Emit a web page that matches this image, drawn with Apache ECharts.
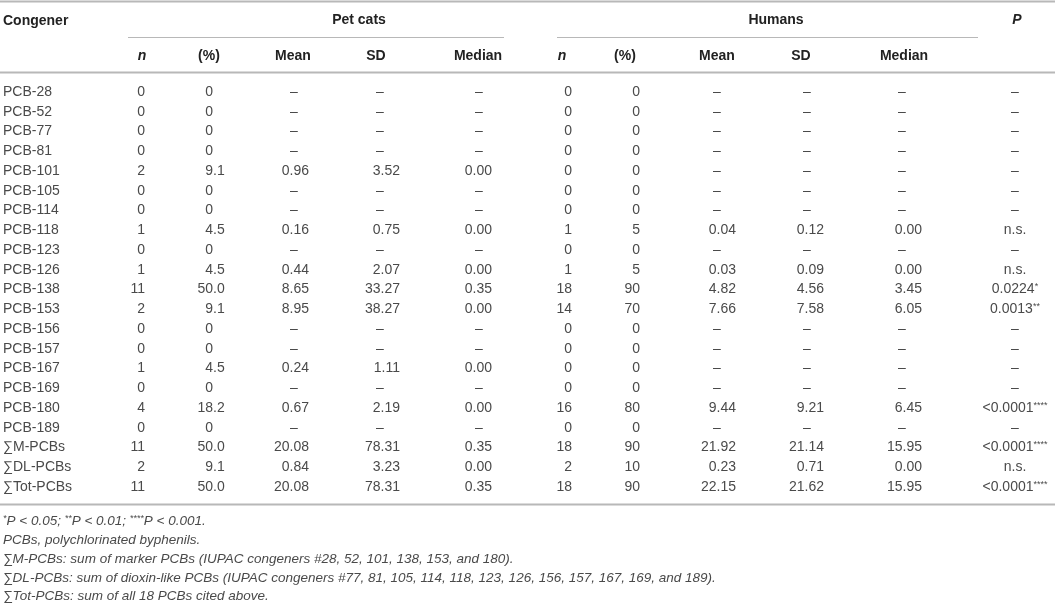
<!DOCTYPE html>
<html>
<head>
<meta charset="utf-8">
<title>PCB congeners in pet cats and humans</title>
<script src="https://cdn.jsdelivr.net/npm/echarts@6/dist/echarts.min.js"></script>
<style>
  html, body { margin: 0; padding: 0; background: #fff; }
  #main { width: 1055px; height: 604px; }
</style>
</head>
<body>
<div id="main"></div>
<script>
// rows
var congeners = ['PCB-28', 'PCB-52', 'PCB-77', 'PCB-81', 'PCB-101', 'PCB-105', 'PCB-114', 'PCB-118', 'PCB-123', 'PCB-126',
  'PCB-138', 'PCB-153', 'PCB-156', 'PCB-157', 'PCB-167', 'PCB-169', 'PCB-180', 'PCB-189', '∑M-PCBs', '∑DL-PCBs', '∑Tot-PCBs'];

// pet cats
var catsN      = ['0', '0', '0', '0', '2', '0', '0', '1', '0', '1', '11', '2', '0', '0', '1', '0', '4', '0', '11', '2', '11'];
var catsPct    = ['0', '0', '0', '0', '9.1', '0', '0', '4.5', '0', '4.5', '50.0', '9.1', '0', '0', '4.5', '0', '18.2', '0', '50.0', '9.1', '50.0'];
var catsMean   = ['–', '–', '–', '–', '0.96', '–', '–', '0.16', '–', '0.44', '8.65', '8.95', '–', '–', '0.24', '–', '0.67', '–', '20.08', '0.84', '20.08'];
var catsSD     = ['–', '–', '–', '–', '3.52', '–', '–', '0.75', '–', '2.07', '33.27', '38.27', '–', '–', '1.11', '–', '2.19', '–', '78.31', '3.23', '78.31'];
var catsMedian = ['–', '–', '–', '–', '0.00', '–', '–', '0.00', '–', '0.00', '0.35', '0.00', '–', '–', '0.00', '–', '0.00', '–', '0.35', '0.00', '0.35'];

// humans
var humN      = ['0', '0', '0', '0', '0', '0', '0', '1', '0', '1', '18', '14', '0', '0', '0', '0', '16', '0', '18', '2', '18'];
var humPct    = ['0', '0', '0', '0', '0', '0', '0', '5', '0', '5', '90', '70', '0', '0', '0', '0', '80', '0', '90', '10', '90'];
var humMean   = ['–', '–', '–', '–', '–', '–', '–', '0.04', '–', '0.03', '4.82', '7.66', '–', '–', '–', '–', '9.44', '–', '21.92', '0.23', '22.15'];
var humSD     = ['–', '–', '–', '–', '–', '–', '–', '0.12', '–', '0.09', '4.56', '7.58', '–', '–', '–', '–', '9.21', '–', '21.14', '0.71', '21.62'];
var humMedian = ['–', '–', '–', '–', '–', '–', '–', '0.00', '–', '0.00', '3.45', '6.05', '–', '–', '–', '–', '6.45', '–', '15.95', '0.00', '15.95'];

var pValues = ['–', '–', '–', '–', '–', '–', '–', 'n.s.', '–', 'n.s.', '0.0224*', '0.0013**', '–', '–', '–', '–', '<0.0001****', '–', '<0.0001****', 'n.s.', '<0.0001****'];

var groupHeads = ['Pet cats', 'Humans'];
var subHeads = ['n', '(%)', 'Mean', 'SD', 'Median'];
var footnotes = [
  '{s|*}P < 0.05; {s|**}P < 0.01; {s|****}P < 0.001.',
  'PCBs, polychlorinated byphenils.',
  '∑M-PCBs: sum of marker PCBs (IUPAC congeners #28, 52, 101, 138, 153, and 180).',
  '∑DL-PCBs: sum of dioxin-like PCBs (IUPAC congeners #77, 81, 105, 114, 118, 123, 126, 156, 157, 167, 169, and 189).',
  '∑Tot-PCBs: sum of all 18 PCBs cited above.'
];

// column layout (x of alignment edge, x of centre)
var columns = [
  { vals: catsN,      mode: 'right', x: 145, mid: 141 },
  { vals: catsPct,    mode: 'dec',   x: 213, mid: 209 },
  { vals: catsMean,   mode: 'right', x: 309, mid: 294 },
  { vals: catsSD,     mode: 'right', x: 400, mid: 380 },
  { vals: catsMedian, mode: 'right', x: 492, mid: 479 },
  { vals: humN,       mode: 'right', x: 572, mid: 567 },
  { vals: humPct,     mode: 'right', x: 640, mid: 633 },
  { vals: humMean,    mode: 'right', x: 736, mid: 717 },
  { vals: humSD,      mode: 'right', x: 824, mid: 807 },
  { vals: humMedian,  mode: 'right', x: 922, mid: 902 },
  { vals: pValues,    mode: 'center', x: 1015, mid: 1015 }
];
var subHeadX = [142, 209, 293, 376, 478, 562, 625, 717, 801, 904];

var FONT = '"Liberation Sans", Arial, sans-serif';
var TXT = '#4a4a4a';
var HEAD = '#222';
var RULE = '#b8b8b8';

var cells = [];
columns.forEach(function (c, ci) {
  c.vals.forEach(function (v, ri) {
    cells.push([c.mode === 'dec' ? c.x : c.mid, ri, ci]);
  });
});

function cellText(x, y, text, align) {
  return {
    type: 'text', x: x, y: y,
    style: { text: text, align: align, verticalAlign: 'middle', fill: TXT, font: '14px ' + FONT }
  };
}

var graphics = [];
// rules
function rule(x1, x2, y, w) {
  graphics.push({ type: 'line', shape: { x1: x1, y1: y, x2: x2, y2: y }, style: { stroke: RULE, lineWidth: w }, silent: true });
}
rule(0, 1055, 1.5, 2);
rule(128, 504, 37.5, 1);
rule(557, 978, 37.5, 1);
rule(0, 1055, 72.5, 2);
rule(0, 1055, 504.5, 2);

function head(x, y, text, align, italic) {
  graphics.push({
    type: 'text', x: x, y: y,
    style: { text: text, align: align, verticalAlign: 'middle', fill: HEAD,
      font: (italic ? 'italic ' : '') + 'bold 14px ' + FONT }
  });
}
head(3, 21, 'Congener', 'left');
head(359, 20, groupHeads[0], 'center');
head(776, 20, groupHeads[1], 'center');
head(1017, 20, 'P', 'center', true);
subHeadX.forEach(function (x, i) {
  var t = subHeads[i % 5];
  head(x, 56, t, 'center', t === 'n');
});

var footY = [521, 540, 559, 578, 596];
footnotes.forEach(function (t, i) {
  graphics.push({
    type: 'text', x: 3, y: footY[i],
    style: {
      text: t, align: 'left', verticalAlign: 'middle', fill: TXT,
      font: 'italic 13.5px ' + FONT,
      rich: { s: { font: 'italic 9px ' + FONT, fill: TXT, verticalAlign: 'top', padding: [0, 0, 6, 0] } }
    }
  });
});

var myChart = echarts.init(document.getElementById('main'));
var option = {
  animation: false,
  grid: { left: 0, right: 0, top: 82, height: 415 },
  xAxis: { type: 'value', min: 0, max: 1055, show: false },
  yAxis: {
    type: 'category', data: congeners, inverse: true,
    axisLine: { show: false }, axisTick: { show: false }, splitLine: { show: false },
    axisLabel: { inside: true, margin: 3, color: TXT, fontSize: 14, fontFamily: FONT }
  },
  graphic: graphics,
  series: [{
    type: 'custom',
    data: cells,
    silent: true,
    renderItem: function (params, api) {
      var col = columns[api.value(2)];
      var row = api.value(1);
      var v = col.vals[row];
      var pt = api.coord([api.value(0), row]);
      var y = pt[1];
      if (v === '–') {
        return cellText(col.mid, y, v, 'center');
      }
      if (col.mode === 'dec') {
        var parts = v.split('.');
        var kids = [cellText(col.x, y, parts[0], 'right')];
        if (parts.length > 1) kids.push(cellText(col.x, y, '.' + parts[1], 'left'));
        return { type: 'group', children: kids };
      }
      if (col.mode === 'center') {
        var m = v.match(/^(.*?)(\*+)$/);
        var el = cellText(col.mid, y, m ? '{a|' + m[1] + '}{s|' + m[2] + '}' : v, 'center');
        el.style.rich = {
          a: { font: '14px ' + FONT, fill: TXT },
          s: { font: '9px ' + FONT, fill: TXT, verticalAlign: 'top', padding: [0, 0, 6, 0] }
        };
        return el;
      }
      return cellText(col.x, y, v, 'right');
    }
  }]
};
myChart.setOption(option);
</script>
</body>
</html>
